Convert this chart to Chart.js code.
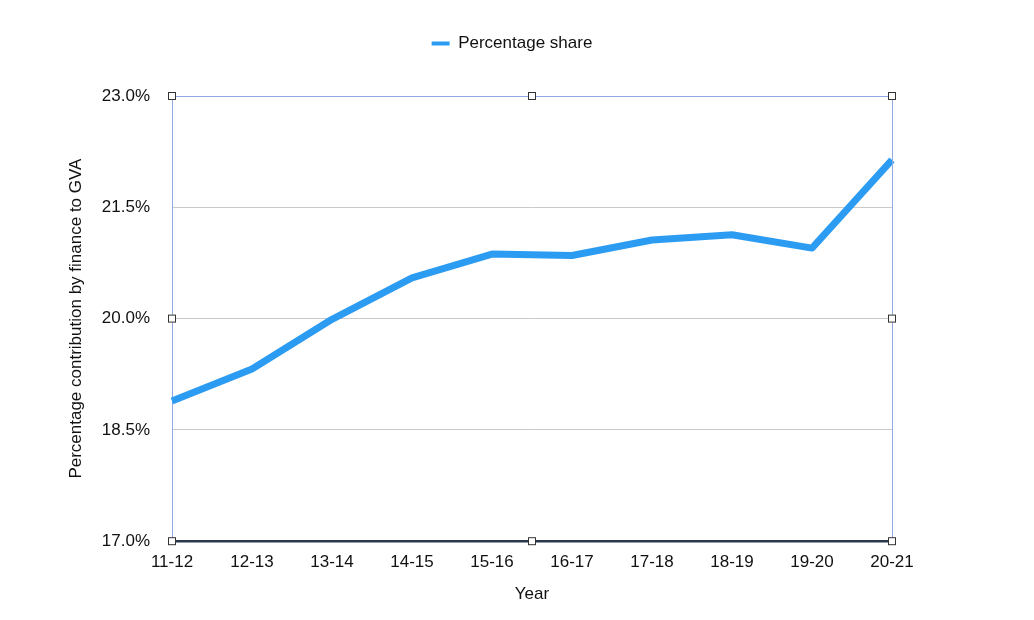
<!DOCTYPE html>
<html>
<head>
<meta charset="utf-8">
<script src="https://cdn.jsdelivr.net/npm/chart.js@4"></script>
<style>
  html, body { margin: 0; padding: 0; background: #fff; }
  #wrap { width: 1034px; height: 620px; }
</style>
</head>
<body>
<div id="wrap"><canvas id="financeChart"></canvas></div>
<script>
// datos
const years = ['11-12', '12-13', '13-14', '14-15', '15-16', '16-17', '17-18', '18-19', '19-20', '20-21'];
const shareValues = [18.89, 19.32, 19.99, 20.55, 20.87, 20.85, 21.06, 21.13, 20.95, 22.14];
const yTicks = [17.0, 18.5, 20.0, 21.5, 23.0];

const FONT = '"Liberation Sans", Helvetica, Arial, sans-serif';
const BLUE = '#2b9cf2';
const FRAME = '#8ea9e6';

// marco y tiradores de seleccion alrededor del area
const framePlugin = {
    id: 'frameHandles',
    afterDraw(chart) {
        const { ctx, chartArea: a } = chart;
        ctx.save();
        ctx.strokeStyle = FRAME;
        ctx.lineWidth = 1;
        ctx.beginPath();
        ctx.moveTo(a.right + 0.5, a.top);
        ctx.lineTo(a.right + 0.5, a.bottom);
        ctx.stroke();

        const midX = (a.left + a.right) / 2;
        const midY = (a.top + a.bottom) / 2;
        const spots = [
            [a.left, a.top], [midX, a.top], [a.right, a.top],
            [a.left, midY], [a.right, midY],
            [a.left, a.bottom], [midX, a.bottom], [a.right, a.bottom]
        ];
        ctx.fillStyle = '#fff';
        ctx.strokeStyle = '#333';
        spots.forEach(([x, y]) => {
            ctx.fillRect(x - 4, y - 4, 8, 8);
            ctx.strokeRect(x - 3.5, y - 3.5, 7, 7);
        });
        ctx.restore();
    }
};

const ctx = document.getElementById('financeChart').getContext('2d');
new Chart(ctx, {
    type: 'line',
    data: {
        labels: years,
        datasets: [{
            label: 'Percentage share',
            data: shareValues,
            xAxisID: 'x',
            yAxisID: 'y',
            borderColor: BLUE,
            backgroundColor: BLUE,
            borderWidth: 7,
            pointRadius: 0,
            tension: 0,
            borderJoinStyle: 'round',
            borderCapStyle: 'butt'
        }]
    },
    options: {
        responsive: true,
        maintainAspectRatio: false,
        animation: false,
        layout: { padding: { left: 0, right: 10, top: 25, bottom: 15 } },
        plugins: {
            tooltip: { enabled: false },
            legend: {
                position: 'top',
                labels: {
                    boxWidth: 18,
                    boxHeight: 4,
                    color: '#111',
                    font: { family: FONT, size: 17 },
                    padding: 10,
                    generateLabels(chart) {
                        const items = Chart.defaults.plugins.legend.labels.generateLabels(chart);
                        items.forEach(it => { it.lineWidth = 0; });
                        return items;
                    }
                }
            }
        },
        scales: {
            x: {
                offset: false,
                grid: { display: false, drawTicks: false },
                border: { display: false },
                ticks: {
                    color: '#111',
                    font: { family: FONT, size: 17 },
                    padding: 11,
                    maxRotation: 0,
                    autoSkip: false
                },
                title: {
                    display: true,
                    text: 'Year',
                    color: '#111',
                    font: { family: FONT, size: 17 },
                    padding: { top: 1, bottom: 0 }
                }
            },
            y: {
                min: 17,
                max: 23,
                afterBuildTicks(scale) {
                    scale.ticks = yTicks.map(v => ({ value: v }));
                },
                afterFit(scale) { scale.width = 172; },
                grid: {
                    drawTicks: false,
                    color(c) {
                        if (c.tick && c.tick.value === 17) return '#2a3850';
                        if (c.tick && c.tick.value === 23) return FRAME;
                        return '#c9c9c9';
                    },
                    lineWidth(c) {
                        return c.tick && c.tick.value === 17 ? 2.5 : 1;
                    }
                },
                border: { display: true, color: FRAME, width: 1 },
                ticks: {
                    color: '#111',
                    font: { family: FONT, size: 17 },
                    padding: 22,
                    callback: v => Number(v).toFixed(1) + '%'
                },
                title: {
                    display: true,
                    text: 'Percentage contribution by finance to GVA',
                    color: '#111',
                    font: { family: FONT, size: 17 },
                    padding: { top: 66, bottom: 0 }
                }
            },
            // ejes vacios solo para reservar espacio
            xTop: {
                type: 'category',
                position: 'top',
                grid: { display: false, drawTicks: false },
                border: { display: false },
                ticks: { display: false },
                afterFit(scale) { scale.height = 34; }
            },
            yRight: {
                type: 'linear',
                position: 'right',
                grid: { display: false, drawTicks: false },
                border: { display: false },
                ticks: { display: false },
                afterFit(scale) { scale.width = 132; }
            }
        }
    },
    plugins: [framePlugin]
});
</script>
</body>
</html>
